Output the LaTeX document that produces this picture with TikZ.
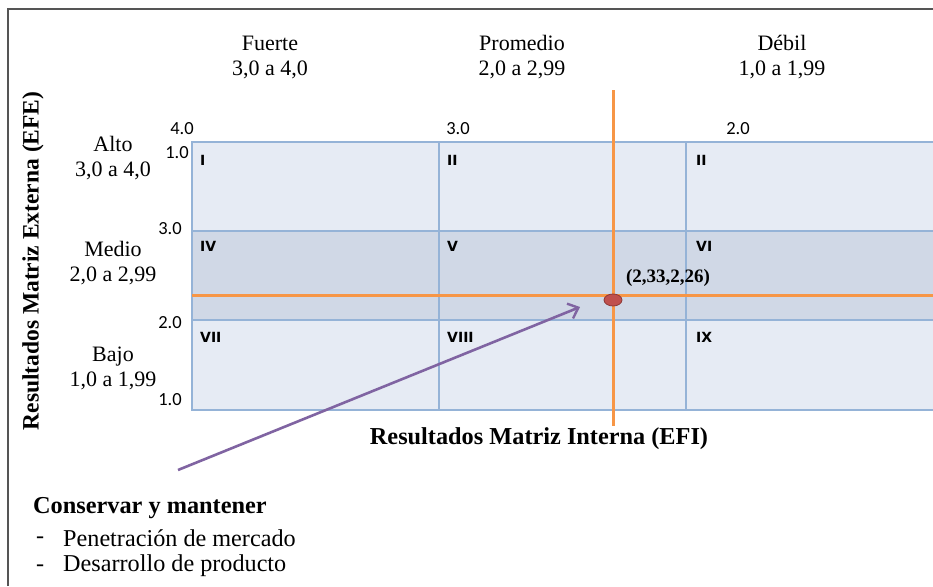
\documentclass[tikz,border=0pt]{standalone}
\usepackage{fontspec}
\setmainfont{Liberation Serif}
\newfontfamily\calib{Carlito}
\newfontfamily\numfont{DejaVu Sans Bold}
\usetikzlibrary{arrows.meta,shapes.geometric}
\definecolor{gridblue}{HTML}{95B3D7}
\definecolor{celllight}{HTML}{E6EBF4}
\definecolor{cellmid}{HTML}{D0D8E6}
\definecolor{orangeln}{HTML}{F79646}
\definecolor{reddot}{HTML}{C0504D}
\definecolor{reddotb}{HTML}{8C3836}
\definecolor{purpleln}{HTML}{8064A2}
\definecolor{framegray}{HTML}{555555}
\tikzset{
  hdr/.style={font=\fontsize{22}{25}\selectfont, align=center, inner sep=0pt},
  tick/.style={font=\calib\fontsize{18.5}{20}\selectfont, inner sep=0pt},
  roman/.style={font=\numfont\fontsize{14}{15}\selectfont, anchor=west, inner sep=0pt},
  axis/.style={font=\bfseries\fontsize{24.3}{27}\selectfont, inner sep=0pt},
  body/.style={font=\fontsize{24.2}{27}\selectfont, anchor=west, inner sep=0pt},
  gridln/.style={draw=gridblue, line width=1.6pt},
  oline/.style={draw=orangeln, line width=3pt},
}
\begin{document}
\begin{tikzpicture}[x=1pt,y=-1pt]
\useasboundingbox (0,0) rectangle (933,586);
\fill[white] (0,0) rectangle (933,586);
% frame
\draw[framegray, line width=2pt] (8,586) -- (8,9) -- (933,9);
% cells
\fill[celllight] (192,142) rectangle (933,231);
\fill[cellmid] (192,231) rectangle (933,320);
\fill[celllight] (192,320) rectangle (933,410);
\draw[gridln] (933,142) -- (192,142) -- (192,410) -- (933,410);
\draw[gridln] (192,231) -- (933,231);
\draw[gridln] (192,320) -- (933,320);
\draw[gridln] (439,142) -- (439,410);
\draw[gridln] (686,142) -- (686,410);
% roman numerals
\node[roman] (c1) at (200,160) {I};
\node[roman] (c2) at (447,160) {II};
\node[roman] (c3) at (696,160) {II};
\node[roman] (c4) at (200,246) {IV};
\node[roman] (c5) at (447,246) {V};
\node[roman] (c6) at (696,246) {VI};
\node[roman] (c7) at (200,337) {VII};
\node[roman] (c8) at (447,337) {VIII};
\node[roman] (c9) at (696,337) {IX};
% orange lines
\draw[oline] (192,295) -- (933,295);
\draw[oline] (613,90) -- (613,426);
% point
\node[ellipse, draw=reddotb, fill=reddot, line width=0.8pt, minimum width=18pt, minimum height=12pt, inner sep=0pt] (pt) at (613,300) {};
\node[font=\bfseries\fontsize{19}{21}\selectfont, inner sep=0pt] (ptlab) at (668,278) {(2,33,2,26)};
% headers
\node[hdr] (h1) at (270,57) {Fuerte\\3,0 a 4,0};
\node[hdr] (h2) at (522,57) {Promedio\\2,0 a 2,99};
\node[hdr] (h3) at (782,57) {Débil\\1,0 a 1,99};
\node[hdr] (r1) at (113,158) {Alto\\3,0 a 4,0};
\node[hdr] (r2) at (113,263) {Medio\\2,0 a 2,99};
\node[hdr] (r3) at (113,368) {Bajo\\1,0 a 1,99};
% ticks
\node[tick] (t40) at (182,129) {4.0};
\node[tick] (t30) at (458,129) {3.0};
\node[tick] (t20) at (738,129) {2.0};
\node[tick] (l10a) at (177,153) {1.0};
\node[tick] (l30) at (170,229) {3.0};
\node[tick] (l20) at (170,323) {2.0};
\node[tick] (l10) at (170,400) {1.0};
% axis titles
\node[axis] (xt) at (539,439) {Resultados Matriz Interna (EFI)};
\node[axis, rotate=90, font=\bfseries\fontsize{23.5}{27}\selectfont] (yt) at (33,261) {Resultados Matriz Externa (EFE)};
% arrow
\coordinate (as) at (178,470);
\coordinate (ae) at (580,307);
\draw[purpleln, line width=2.6pt, -{Straight Barb[length=9pt,width=16pt,line width=2.4pt]}] (as) -- (ae);
% strategy text
\node[font=\bfseries\fontsize{24.3}{27}\selectfont, anchor=west, inner sep=0pt] (st) at (33,508) {Conservar y mantener};
\node[body] (d1) at (36,540) {-};
\node[body] (s1) at (63,538) {Penetración de mercado};
\node[body] (d2) at (36,568) {-};
\node[body] (s2) at (63,566) {Desarrollo de producto};
\end{tikzpicture}
\end{document}
